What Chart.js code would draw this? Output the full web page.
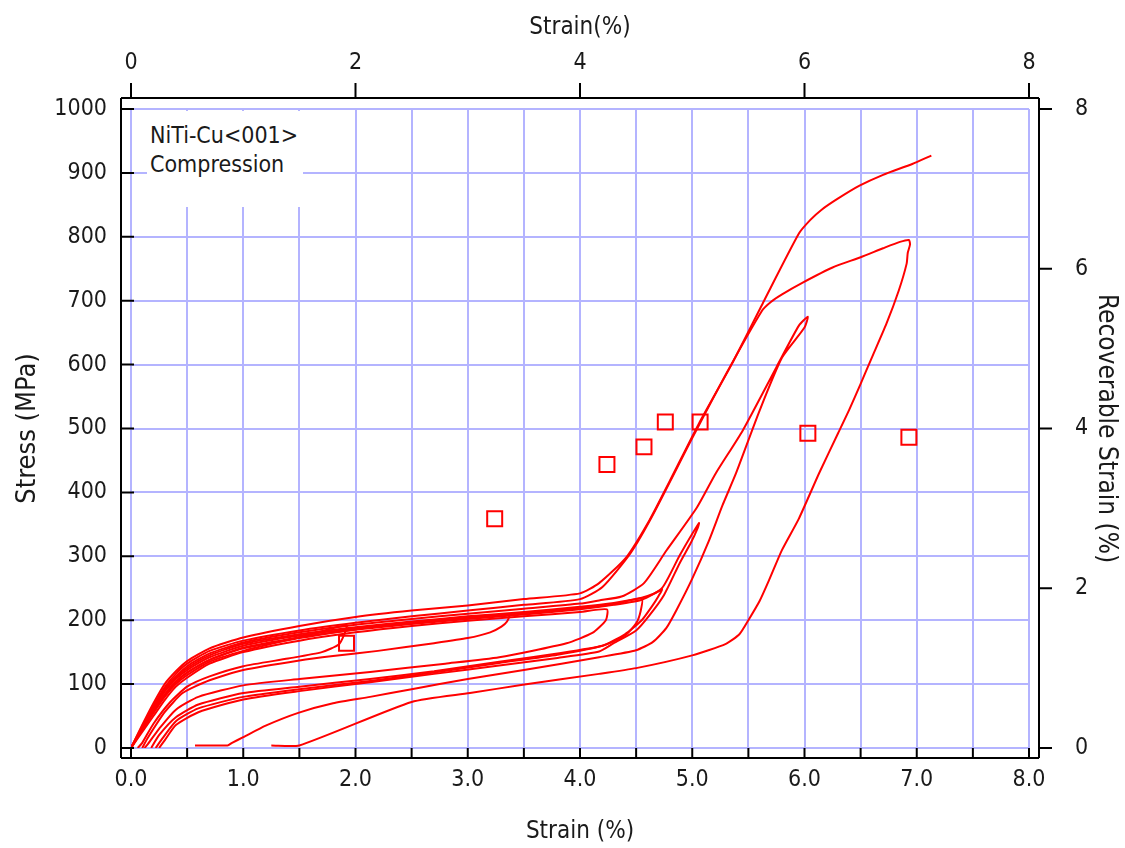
<!DOCTYPE html>
<html>
<head>
<meta charset="utf-8">
<script src="https://cdn.jsdelivr.net/npm/chart.js@4.4.1/dist/chart.umd.min.js"></script>
<style>
  html, body { margin:0; padding:0; background:#fff; }
  #wrap { position:relative; width:1125px; height:848px; background:#fff; }
  #note { position:absolute; left:147px; top:111px; width:156px; height:96px; background:#fff;
          font-family:'DejaVu Sans Condensed','DejaVu Sans',sans-serif; font-size:23px; line-height:29px;
          color:#1a1a1a; padding:10px 0 0 3px; box-sizing:border-box; }
</style>
</head>
<body>
<div id="wrap">
  <canvas id="c" width="1125" height="848"></canvas>
  <div id="note">NiTi-Cu&lt;001&gt;<br>Compression</div>
</div>
<script>
// ---- data (strain %, stress MPa) ----
const c1Strain = [0,0.1,0.2,0.3,0.4,0.5,0.7,1.0,1.3,1.6,1.92, 1.9,1.85,1.7,1.4,1.0,0.7,0.5,0.35,0.2,0.1,0.06];
const c1Stress = [0,28,55,80,100,114,135,152,165,178,192, 178,162,150,140,128,112,96,72,38,8,0];

const c2Strain = [0,0.1,0.2,0.3,0.4,0.5,0.7,1.0,1.5,2.0,2.5,3.0,3.37, 3.35,3.3,3.2,3.0,2.7,2.2,1.8,1.5,1.0,0.7,0.46,0.3,0.15,0.1];
const c2Stress = [0,30,58,84,104,118,138,156,172,186,196,204,209, 198,190,181,172,164,152,144,137,122,106,86,56,16,0];

const c3Strain = [0,0.1,0.2,0.3,0.4,0.5,0.7,1.0,1.5,2.0,2.5,3.0,3.5,4.0,4.24, 4.23,4.11,3.88,3.28,2.8,2.13,1.5,1.0,0.6,0.4,0.25,0.15,0.12];
const c3Stress = [0,25,50,75,96,110,132,150,168,181,191,199,206,213,217, 200,180,164,142,132,119,108,98,80,60,30,6,0];

const c4Strain = [0,0.1,0.2,0.3,0.4,0.5,0.7,1.0,1.5,2.0,2.5,3.0,3.5,4.0,4.3,4.55, 4.54,4.5,4.4,4.2,3.8,3.28,2.7,2.13,1.5,1.0,0.6,0.4,0.25,0.18];
const c4Stress = [0,30,60,88,108,122,142,160,176,187,196,204,211,219,225,234, 214,195,176,160,148,135,120,108,96,86,68,48,20,0];

const c5Strain = [0,0.1,0.2,0.3,0.4,0.5,0.7,1.0,1.5,2.0,2.5,3.0,3.5,4.0,4.3,4.55,4.65,4.73, 4.7,4.65,4.55,4.4,4.2,3.8,3.28,2.7,2.13,1.5,1.0,0.6,0.4,0.28,0.22];
const c5Stress = [0,32,62,90,110,125,145,163,178,189,198,206,213,221,227,235,241,248, 238,224,200,178,160,146,133,118,105,92,80,62,42,15,0];

const c6Strain = [0,0.1,0.2,0.3,0.4,0.5,0.7,1.0,1.5,2.0,2.5,3.0,3.5,4.0,4.3,4.55,4.73,4.89,5.06, 5.05,4.99,4.89,4.75,4.62,4.5,4.3,4.17,3.8,3.28,2.7,2.13,1.5,1.0,0.6,0.4,0.3,0.25];
const c6Stress = [0,28,56,82,103,118,138,157,173,185,194,202,209,217,224,232,250,302,352, 345,322,290,240,208,184,164,151,141,129,116,103,89,76,56,36,12,0];

const c7Strain = [0,0.1,0.2,0.3,0.4,0.5,0.7,1.0,1.5,2.0,2.5,3.0,3.5,4.0,4.17,4.37,4.57,4.77,5.04,5.21,5.45,5.75,5.95,6.03, 6.0,5.8,5.6,5.39,5.27,5.15,5.0,4.86,4.77,4.65,4.5,4.17,3.5,3.0,2.5,2.13,1.8,1.49,1.2,1.0,0.9,0.86,0.57];
const c7Stress = [0,33,64,92,112,128,148,165,181,193,202,210,218,226,231,237,258,309,376,430,497,596,661,675, 658,611,528,430,380,325,265,216,188,166,153,142,122,108,92,80,70,55,35,17,8,4,4];

const c8Strain = [0,0.1,0.2,0.3,0.4,0.5,0.7,1.0,1.5,2.0,2.5,3.0,3.5,4.0,4.2,4.45,4.65,5.0,5.3,5.62,5.7,5.8,5.98,6.25,6.5,6.7,6.85,6.93, 6.94,6.92,6.91,6.84,6.73,6.6,6.5,6.4,6.3,6.13,5.95,5.8,5.69,5.6,5.5,5.42,5.3,5.0,4.5,4.17,3.49,3.02,2.5,1.5,1.25];
const c8Stress = [0,34,66,95,116,132,152,168,184,196,206,215,224,233,252,305,365,485,585,684,698,710,728,752,768,782,792,795, 788,775,758,716,664,611,570,530,493,430,359,310,265,230,200,178,163,145,125,116,99,86,72,4,4];

const c9Strain = [0,0.1,0.2,0.3,0.4,0.5,0.7,1.0,1.5,2.0,2.5,3.0,3.5,4.0,4.17,4.41,4.62,4.8,5.06,5.35,5.64,5.95,6.05,6.15,6.3,6.49,6.7,6.96,7.13];
const c9Stress = [0,36,70,100,120,136,156,173,191,205,215,223,233,242,258,298,357,418,508,600,700,805,826,842,860,880,897,914,927];

// recoverable strain vs. applied strain (top / right axes)
const recStrain = [1.92,3.24,4.24,4.57,4.76,5.07,6.03,6.93];
const recValue  = [1.31,2.87,3.55,3.77,4.08,4.08,3.94,3.89];

// axis tick settings
const bottomTickStep = 0.5, leftTickStep = 100, topTickStep = 2, rightTickStep = 2;

const cycles = [
  [c1Strain,c1Stress],[c2Strain,c2Stress],[c3Strain,c3Stress],[c4Strain,c4Stress],
  [c5Strain,c5Stress],[c6Strain,c6Stress],[c7Strain,c7Stress],[c8Strain,c8Stress],[c9Strain,c9Stress]
];

const RED = '#ff0000';
const GRID = '#b4b4ff';
const FONT = "'DejaVu Sans Condensed','DejaVu Sans',sans-serif";

const datasets = cycles.map(([xs, ys]) => ({
  data: xs.map((x, i) => ({x, y: ys[i]})),
  showLine: true, borderColor: RED, borderWidth: 2, pointRadius: 0, tension: 0.2, fill: false,
  xAxisID: 'x', yAxisID: 'y'
}));
datasets.push({
  data: recStrain.map((x, i) => ({x, y: recValue[i]})),
  showLine: false, pointStyle: 'rect', pointRadius: 10.6, borderColor: RED, borderWidth: 2,
  backgroundColor: 'rgba(0,0,0,0)', xAxisID: 'x2', yAxisID: 'y2'
});

const axisFrame = {
  id: 'axisFrame',
  afterDraw(chart) {
    const {ctx, chartArea: a, scales} = chart;
    const L = a.left - 10, R = a.right + 10, T = a.top - 11, B = a.bottom + 10;
    ctx.save();
    ctx.strokeStyle = '#000'; ctx.lineWidth = 2;
    ctx.beginPath();
    ctx.moveTo(L, T); ctx.lineTo(R, T);
    ctx.moveTo(L, B); ctx.lineTo(R, B);
    ctx.moveTo(L, T); ctx.lineTo(L, B);
    ctx.moveTo(R, T); ctx.lineTo(R, B);
    scales.x.ticks.forEach(t => { const p = scales.x.getPixelForValue(t.value); ctx.moveTo(p, B); ctx.lineTo(p, B - 10); });
    scales.y.ticks.forEach(t => { const p = scales.y.getPixelForValue(t.value); ctx.moveTo(L, p); ctx.lineTo(L + 13, p); });
    scales.x2.ticks.forEach(t => { const p = scales.x2.getPixelForValue(t.value); ctx.moveTo(p, T); ctx.lineTo(p, T - 15); });
    scales.y2.ticks.forEach(t => { const p = scales.y2.getPixelForValue(t.value); ctx.moveTo(R, p); ctx.lineTo(R + 13, p); });
    ctx.stroke();
    ctx.restore();
  }
};

Chart.defaults.font.family = FONT;
Chart.defaults.font.size = 23;
Chart.defaults.color = '#1a1a1a';

new Chart(document.getElementById('c'), {
  type: 'scatter',
  data: { datasets },
  options: {
    responsive: false, animation: false, devicePixelRatio: 1,
    layout: { padding: 0 },
    plugins: { legend: { display: false }, tooltip: { enabled: false } },
    scales: {
      x: {
        type: 'linear', position: 'bottom', min: 0, max: 8,
        ticks: { stepSize: bottomTickStep, padding: 18, autoSkip: false, maxRotation: 0,
                 callback: v => Number.isInteger(v) ? v.toFixed(1) : '' },
        grid: { color: GRID, lineWidth: 2, drawTicks: false },
        border: { display: false },
        title: { display: true, text: 'Strain (%)', font: { size: 24 }, padding: { top: 0, bottom: 2 } },
        afterFit: s => { s.height = 100; }
      },
      x2: {
        type: 'linear', position: 'top', min: 0, max: 8,
        ticks: { stepSize: topTickStep, padding: 32, maxRotation: 0, callback: v => String(v) },
        grid: { display: false, drawTicks: false },
        border: { display: false },
        title: { display: true, text: 'Strain(%)', font: { size: 24 }, padding: { top: 13, bottom: 0 } },
        afterFit: s => { s.height = 109; }
      },
      y: {
        type: 'linear', position: 'left', min: 0, max: 1000,
        ticks: { stepSize: leftTickStep, padding: 24, callback: v => String(v) },
        grid: { color: GRID, lineWidth: 2, drawTicks: false },
        border: { display: false },
        title: { display: true, text: 'Stress (MPa)', font: { size: 27 }, padding: { top: 12, bottom: 0 } },
        afterFit: s => { s.width = 131; }
      },
      y2: {
        type: 'linear', position: 'right', min: 0, max: 8,
        ticks: { stepSize: rightTickStep, padding: 46, callback: v => String(v) },
        grid: { display: false, drawTicks: false },
        border: { display: false },
        title: { display: true, text: 'Recoverable Strain (%)', font: { size: 26 }, padding: { top: 4, bottom: 0 } },
        afterFit: s => { s.width = 96; }
      }
    }
  },
  plugins: [axisFrame]
});
</script>
</body>
</html>
